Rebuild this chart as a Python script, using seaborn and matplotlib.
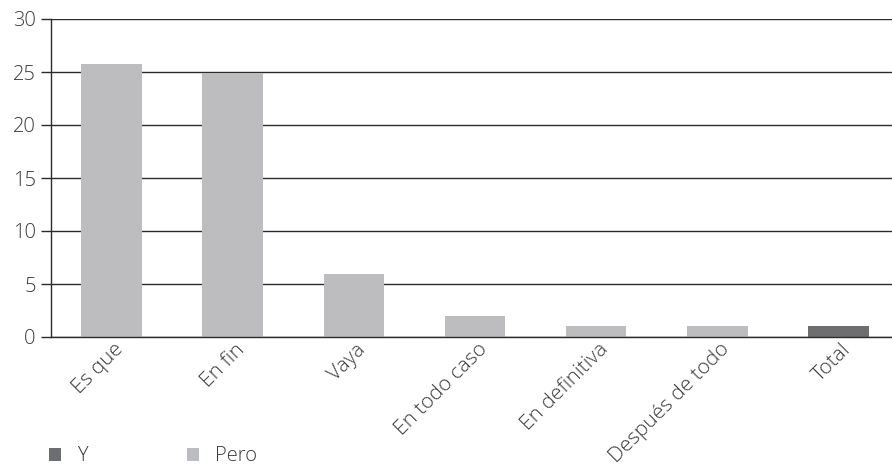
import matplotlib
matplotlib.use("Agg")
import matplotlib.pyplot as plt
from matplotlib.patches import Patch
import seaborn as sns
import pandas as pd

categories = ["Es que", "En fin", "Vaya", "En todo caso", "En definitiva", "Después de todo", "Total"]
pero_values = [25.8, 24.9, 5.9, 2, 1, 1, 0]
y_values = [0, 0, 0, 0, 0, 0, 1]
series_names = ["Y", "Pero"]
series_colors = {"Y": "#6d6e71", "Pero": "#bcbdc0"}
y_ticks = [0, 5, 10, 15, 20, 25, 30]

rows = []
for cat, p, y in zip(categories, pero_values, y_values):
    if y:
        rows.append({"categoria": cat, "serie": "Y", "valor": y})
    if p:
        rows.append({"categoria": cat, "serie": "Pero", "valor": p})
df = pd.DataFrame(rows)

sns.set_style("white")
plt.rcParams["font.family"] = ["Open Sans", "DejaVu Sans"]
plt.rcParams["font.weight"] = "light"

fig = plt.figure(figsize=(8.92, 4.68), dpi=100)
ax = fig.add_axes([51 / 892, 1 - 337 / 468, 848 / 892, 318 / 468])

sns.barplot(data=df, x="categoria", y="valor", hue="serie", order=categories,
            hue_order=series_names, palette=series_colors, dodge=False,
            width=0.5, ax=ax, legend=False, zorder=3, linewidth=0)

ax.set_xlim(-0.5, len(categories) - 0.5)
ax.set_ylim(0, 30)
ax.set_yticks(y_ticks)
ax.yaxis.grid(True, color="#2b2b2b", linewidth=1.0, zorder=0)
ax.set_axisbelow(True)
ax.set_xlabel("")
ax.set_ylabel("")

for side in ["top", "right"]:
    ax.spines[side].set_visible(False)
for side in ["left", "bottom"]:
    ax.spines[side].set_color("#2b2b2b")
    ax.spines[side].set_linewidth(1.0)
    ax.spines[side].set_zorder(4)

ax.tick_params(axis="y", which="both", left=True, length=7, width=1.0,
               color="#2b2b2b", labelsize=14.5, labelcolor="#3a3a3a", pad=4)
ax.tick_params(axis="x", bottom=False, labelsize=15, labelcolor="#3a3a3a", pad=2)
ax.set_xticks(range(len(categories)))
ax.set_xticklabels(categories, rotation=45, ha="right", rotation_mode="anchor")
for lbl in ax.get_xticklabels():
    lbl.set_transform(lbl.get_transform() + matplotlib.transforms.ScaledTranslation(0.02, 0.05, fig.dpi_scale_trans))

handles = [Patch(facecolor=series_colors[s], edgecolor="none") for s in series_names]
fig.legend(handles, series_names, loc="lower left", bbox_to_anchor=(0.035, -0.035),
           ncol=2, frameon=False, fontsize=14.5, handlelength=0.6, handleheight=0.6,
           handletextpad=0.8, columnspacing=4.9, labelcolor="#3a3a3a")

fig.savefig("out.png", dpi=100)
